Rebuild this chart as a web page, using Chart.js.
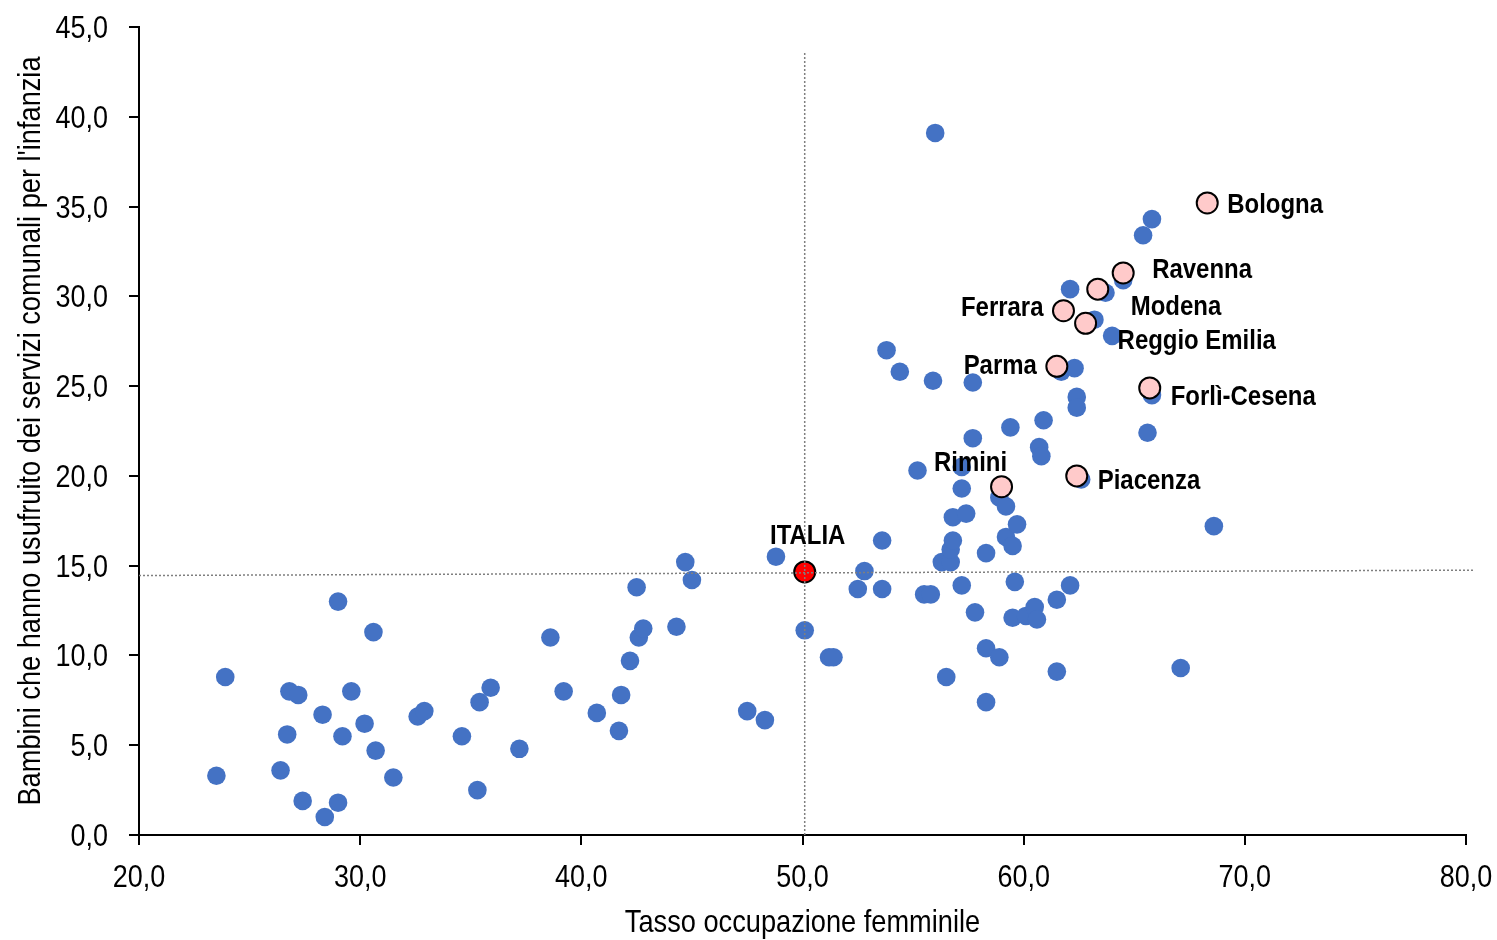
<!DOCTYPE html>
<html>
<head>
<meta charset="utf-8">
<script src="https://cdn.jsdelivr.net/npm/chart.js@4/dist/chart.umd.min.js"></script>
<style>
html,body{margin:0;padding:0;background:#fff;}
#wrap{width:1497px;height:940px;position:relative;}
</style>
</head>
<body>
<div id="wrap"><canvas id="c" width="1497" height="940"></canvas></div>
<script>
// ---- DATA ----
const provX = [23.5,23.9,26.4,26.7,26.8,27.2,27.4,28.3,28.4,29.0,29.0,29.2,29.6,30.2,30.6,30.7,31.5,32.6,32.9,34.6,35.3,35.4,35.9,37.2,38.6,39.2,40.7,41.7,41.8,42.2,42.5,42.6,42.8,44.3,44.7,45.0,47.5,48.3,48.8,50.1,51.2,51.4,52.5,52.8,53.6,53.6,53.8,54.4,55.2,55.5,55.8,55.9,56.0,56.3,56.5,56.7,56.7,56.8,56.8,57.2,57.2,57.2,57.4,57.7,57.7,57.8,58.3,58.3,58.3,58.9,58.9,59.2,59.2,59.4,59.5,59.5,59.6,59.7,60.1,60.5,60.6,60.7,60.8,60.9,61.5,61.5,61.7,62.1,62.1,62.3,62.4,62.4,62.6,63.2,63.7,64.0,64.5,65.4,65.8,65.6,65.8,67.1,68.6];
const provY = [3.3,8.8,3.6,5.6,8.0,7.8,1.9,6.7,1.0,13.0,1.8,5.5,8.0,6.2,11.3,4.7,3.2,6.6,6.9,5.5,2.5,7.4,8.2,4.8,11.0,8.0,6.8,5.8,7.8,9.7,13.8,11.0,11.5,11.6,15.2,14.2,6.9,6.4,15.5,11.4,9.9,9.9,13.7,14.7,16.4,13.7,27.0,25.8,20.3,13.4,13.4,25.3,39.1,15.2,8.8,15.2,15.9,16.4,17.7,20.5,19.3,13.9,17.9,25.2,22.1,12.4,10.4,15.7,7.4,9.9,18.8,18.3,16.6,22.7,16.1,12.1,14.1,17.3,12.2,12.7,12.0,21.6,21.1,23.1,13.1,9.1,25.8,13.9,30.4,26.0,24.4,23.8,19.8,28.7,30.2,27.8,30.9,33.4,34.3,22.4,24.5,9.3,17.2];
const regionNames = ["Bologna","Ravenna","Modena","Ferrara","Reggio Emilia","Parma","Forlì-Cesena","Rimini","Piacenza"];
const regionX = [68.3,64.5,63.35,61.8,62.8,61.5,65.7,59.0,62.4];
const regionY = [35.2,31.3,30.4,29.2,28.5,26.1,24.9,19.4,20.0];
const italiaName = "ITALIA";
const italiaX = [50.1];
const italiaY = [14.65];
const vLineX = [50.1,50.1];
const vLineY = [0,43.6];
const hLineX = [20,80.4];
const hLineY = [14.45,14.75];
const xTicks = [20,30,40,50,60,70,80];
const yTicks = [0,5,10,15,20,25,30,35,40,45];
const xTitle = "Tasso occupazione femminile";
const yTitle = "Bambini che hanno usufruito dei servizi comunali per l'infanzia";

// ---- label placement (style, px offsets from the point, alphabetic baseline) ----
const labelStyle = {
  "Bologna":{dx:20,dy:10,align:"left"},
  "Ravenna":{dx:29,dy:5,align:"left"},
  "Modena":{dx:33,dy:26,align:"left"},
  "Ferrara":{dx:-20,dy:5,align:"right"},
  "Reggio Emilia":{dx:32,dy:26,align:"left"},
  "Parma":{dx:-20,dy:8,align:"right"},
  "Forlì-Cesena":{dx:21,dy:17,align:"left"},
  "Rimini":{dx:-31,dy:-16,align:"center"},
  "Piacenza":{dx:21,dy:13,align:"left"},
  "ITALIA":{dx:3,dy:-28,align:"center"}
};

const FONT = "'Liberation Sans Narrow','Liberation Sans',Arial,sans-serif";
const zip = (xs, ys) => xs.map((x,i)=>({x:x,y:ys[i]}));
const fmt = v => v.toFixed(1).replace('.', ',');

// draw text horizontally condensed (narrow face substitute)
function narrowText(ctx, text, x, y, sx, align){
  ctx.save();
  ctx.translate(x, y);
  ctx.scale(sx, 1);
  ctx.textAlign = align;
  ctx.fillText(text, 0, 0);
  ctx.restore();
}

const textPlugin = {
  id:'texts',
  afterDraw(chart){
    const ctx = chart.ctx;
    const xs = chart.scales.x, ys = chart.scales.y;
    const ca = chart.chartArea;
    ctx.save();
    ctx.fillStyle = "#000";
    ctx.textBaseline = "alphabetic";
    // tick labels
    ctx.font = "31px " + FONT;
    xs.ticks.forEach(t => narrowText(ctx, fmt(t.value), xs.getPixelForValue(t.value), ca.bottom + 52, 0.87, "center"));
    ys.ticks.forEach(t => narrowText(ctx, fmt(t.value), ca.left - 31, ys.getPixelForValue(t.value) + 11, 0.87, "right"));
    // axis titles
    ctx.font = "32px " + FONT;
    narrowText(ctx, xTitle, (ca.left + ca.right) / 2, ca.bottom + 97, 0.85, "center");
    ctx.save();
    ctx.translate(40, (ca.top + ca.bottom) / 2);
    ctx.rotate(-Math.PI / 2);
    narrowText(ctx, yTitle, 0, 0, 0.85, "center");
    ctx.restore();
    // point labels
    ctx.font = "bold 28px " + FONT;
    const draw = (name, x, y) => {
      const s = labelStyle[name];
      narrowText(ctx, name, xs.getPixelForValue(x) + s.dx, ys.getPixelForValue(y) + s.dy, 0.855, s.align);
    };
    regionNames.forEach((n,i)=>draw(n, regionX[i], regionY[i]));
    draw(italiaName, italiaX[0], italiaY[0]);
    ctx.restore();
  }
};

new Chart(document.getElementById('c'), {
  type:'scatter',
  data:{
    datasets:[
      {label:'v', type:'line', data:zip(vLineX,vLineY), borderColor:'#7f7f7f', borderWidth:1.5, borderDash:[2,2], pointRadius:0, fill:false, order:0, clip:false},
      {label:'h', type:'line', data:zip(hLineX,hLineY), borderColor:'#7f7f7f', borderWidth:1.5, borderDash:[2,2], pointRadius:0, fill:false, order:0, clip:false},
      {label:'Italia', data:zip(italiaX,italiaY), backgroundColor:'#ff0000', borderColor:'#000', borderWidth:2, pointRadius:10.5, order:1},
      {label:'ER', data:zip(regionX,regionY), backgroundColor:'#ffcaca', borderColor:'#000', borderWidth:2, pointRadius:10.5, order:2},
      {label:'Province', data:zip(provX,provY), backgroundColor:'#4472c4', borderWidth:0, pointRadius:9.3, order:3}
    ]
  },
  options:{
    responsive:false,
    animation:false,
    events:[],
    layout:{padding:{left:0,right:31,top:27,bottom:0}},
    plugins:{legend:{display:false}, tooltip:{enabled:false}},
    scales:{
      x:{
        type:'linear', min:20, max:80,
        afterBuildTicks: s => { s.ticks = xTicks.map(v=>({value:v})); },
        afterFit: s => { s.height = 105; },
        grid:{display:true, drawOnChartArea:false, drawTicks:true, tickLength:10, color:'#000', lineWidth:2},
        border:{display:true, color:'#000', width:2},
        ticks:{display:false},
        title:{display:false}
      },
      y:{
        type:'linear', min:0, max:45,
        afterBuildTicks: s => { s.ticks = yTicks.map(v=>({value:v})); },
        afterFit: s => { s.width = 139; },
        grid:{display:true, drawOnChartArea:false, drawTicks:true, tickLength:10, color:'#000', lineWidth:2},
        border:{display:true, color:'#000', width:2},
        ticks:{display:false},
        title:{display:false}
      }
    }
  },
  plugins:[textPlugin]
});
</script>
</body>
</html>
